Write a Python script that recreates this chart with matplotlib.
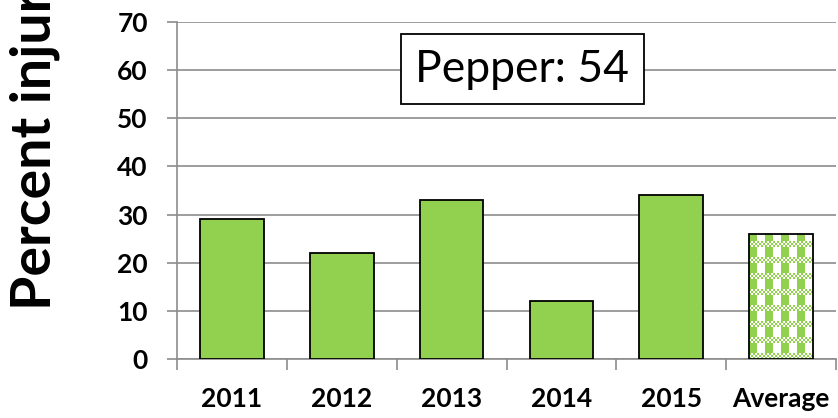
import matplotlib
matplotlib.use("Agg")
import matplotlib.pyplot as plt
import numpy as np

categories = ["2011", "2012", "2013", "2014", "2015", "Average"]
values = [29, 22, 33, 12, 34, 26]
y_ticks = [0, 10, 20, 30, 40, 50, 60, 70]
title_text = "Pepper: 54"
ylabel_text = "Percent injury"

plt.rcParams['font.family'] = ['Lato', 'DejaVu Sans']
green = "#92D050"
gray = "#8c8c8c"

fig = plt.figure(figsize=(8.38, 4.18), dpi=100)
ax = fig.add_axes([177/838, (418-359)/418, (836-177)/838, (359-22)/418])

x = np.arange(len(categories))
w = 0.58
ax.bar(x[:-1], values[:-1], width=w, color=green, edgecolor="black", linewidth=1.3, zorder=3)

# Average: gingham-like checkered fill, clipped to the bar
avg_bar = ax.bar(x[-1:], values[-1:], width=w, facecolor="white", edgecolor="none", zorder=3)[0]
ax.set_xlim(-0.5, len(categories) - 0.5)
ax.set_ylim(0, 70)
bx0, by0 = avg_bar.get_x(), avg_bar.get_y()
bw, bh = avg_bar.get_width(), avg_bar.get_height()
px_w = bw * (659 / 6)
px_h = bh * (337 / 70)
nc = int(round(px_w / 2))
nr = int(round(px_h / 2))
rgb_g = np.array(matplotlib.colors.to_rgb(green))
img = np.ones((nr, nc, 3))
for r in range(nr):
    for c in range(nc):
        if r % 8 in (0, 1, 2):
            g = (r + c) % 2 == 0
        else:
            g = c % 8 < 4
        if g:
            img[r, c] = rgb_g
im = ax.imshow(img, extent=[bx0, bx0 + bw, by0 + bh, by0], origin="upper",
               interpolation="nearest", aspect="auto", zorder=3.5)
im.set_clip_path(avg_bar)
ax.bar(x[-1:], values[-1:], width=w, facecolor="none", edgecolor="black", linewidth=1.3, zorder=4)

ax.set_xlim(-0.5, len(categories) - 0.5)
ax.set_ylim(0, 70)
ax.set_yticks(y_ticks)
ax.set_yticklabels([str(t) for t in y_ticks], fontsize=19, fontweight="bold")
ax.yaxis.grid(True, color=gray, linewidth=1.2, zorder=0)
ax.set_axisbelow(True)

ax.set_xticks(x)
ax.set_xticklabels(categories, fontsize=19, fontweight="bold")
ax.set_xticks(np.arange(-0.5, len(categories)), minor=True)
ax.tick_params(axis="x", which="major", length=0, pad=20)
ax.tick_params(axis="x", which="minor", length=8, color=gray, width=1.2)
ax.tick_params(axis="y", length=7, color=gray, width=1.2, pad=14)

for s in ["top", "right"]:
    ax.spines[s].set_visible(False)
for s in ["left", "bottom"]:
    ax.spines[s].set_color(gray)
    ax.spines[s].set_linewidth(1.2)

ax.text(0.524, 0.86, title_text, transform=ax.transAxes, ha="center", va="center",
        fontsize=32, zorder=5,
        bbox=dict(boxstyle="square,pad=0.33", facecolor="white", edgecolor="black", linewidth=1.3))

fig.text(35/838, (418-310)/418, ylabel_text, rotation=90, ha="center", va="bottom",
         fontsize=40, fontweight="bold")

fig.savefig("out.png", dpi=100)
